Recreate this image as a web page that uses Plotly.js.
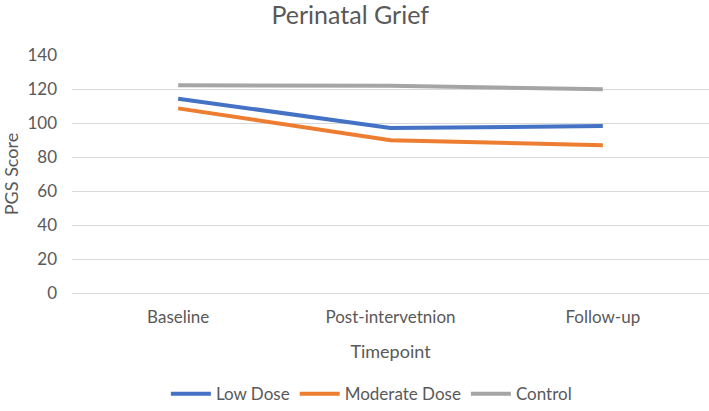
<!DOCTYPE html>
<html>
<head>
<meta charset="utf-8">
<script src="https://cdn.plot.ly/plotly-3.0.1.min.js"></script>
<style>
  html, body { margin: 0; padding: 0; background: #fff; }
  #plot { width: 709px; height: 411px; }
</style>
</head>
<body>
<div id="plot"></div>
<script>
var timepoints = ['Baseline', 'Post-intervetnion', 'Follow-up'];
var lowDose = [114.3, 97.1, 98.2];
var moderateDose = [108.6, 89.8, 86.9];
var control = [122.2, 121.9, 119.8];
var yTicks = [0, 20, 40, 60, 80, 100, 120, 140];

var grey = '#595959';

function line(name, y, color) {
    return {
        x: timepoints,
        y: y,
        name: name,
        type: 'scatter',
        mode: 'lines',
        line: { color: color, width: 4 }
    };
}

var traces = [
    line('Low Dose', lowDose, '#4472C4'),
    line('Moderate Dose', moderateDose, '#ED7D31'),
    line('Control', control, '#A5A5A5')
];

var layout = {
    width: 709,
    height: 411,
    margin: { l: 72, r: 0, t: 55, b: 118, autoexpand: false },
    paper_bgcolor: '#ffffff',
    plot_bgcolor: '#ffffff',
    font: { family: 'Lato, "Open Sans", sans-serif', color: grey, size: 17 },
    title: {
        text: 'Perinatal Grief',
        font: { size: 25, color: grey },
        x: 0.494,
        xanchor: 'center',
        y: 0.962,
        yanchor: 'middle'
    },
    xaxis: {
        type: 'category',
        range: [-0.5, 2.5],
        automargin: false,
        showgrid: false,
        showline: false,
        zeroline: false,
        ticks: '',
        ticklabelstandoff: 12,
        tickfont: { size: 17, color: grey },
        title: { text: 'Timepoint', font: { size: 18, color: grey }, standoff: 19 }
    },
    yaxis: {
        range: [0, 140],
        tickvals: yTicks,
        automargin: false,
        gridcolor: '#d9d9d9',
        gridwidth: 1,
        zeroline: true,
        zerolinecolor: '#d9d9d9',
        zerolinewidth: 1,
        showline: false,
        ticks: '',
        ticklabelstandoff: 14,
        tickfont: { size: 17, color: grey },
        title: { text: 'PGS Score', font: { size: 18, color: grey }, standoff: 12 }
    },
    showlegend: true,
    legend: {
        orientation: 'h',
        x: 0.47,
        xanchor: 'center',
        y: -0.425,
        yanchor: 'middle',
        font: { size: 17, color: grey },
        itemwidth: 40
    }
};

var plotElement = document.getElementById('plot');
if (plotElement) {
    Plotly.newPlot('plot', traces, layout, { displayModeBar: false, staticPlot: true });
} else {
    console.error("No DOM element with id 'plot' exists on the page.");
}
</script>
</body>
</html>
